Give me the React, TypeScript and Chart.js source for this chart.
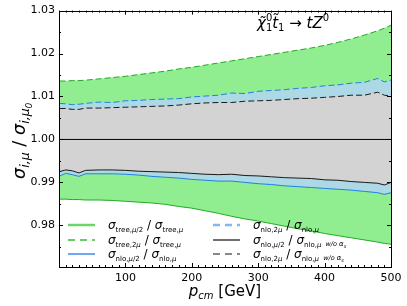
import React, { useEffect, useRef } from 'react';
import { Chart, registerables } from 'chart.js';

Chart.register(...registerables);

// ---- data ----
const pcm = [1, 10, 20, 30, 40, 60, 80, 100, 120, 140, 160, 180, 200, 220, 240, 260, 280, 300, 320, 340, 360, 380, 400, 420, 440, 460, 480, 490, 500];
const treeHalf = [0.9861, 0.9861, 0.9860, 0.9860, 0.9859, 0.9859, 0.9858, 0.9856, 0.9854, 0.9852, 0.9849, 0.9844, 0.9840, 0.9834, 0.9828, 0.9821, 0.9815, 0.9810, 0.9804, 0.9798, 0.9792, 0.9787, 0.9781, 0.9776, 0.9771, 0.9766, 0.9761, 0.9758, 0.9756];
const treeDouble = [1.0136, 1.0136, 1.0137, 1.0137, 1.0138, 1.0141, 1.0144, 1.0147, 1.0151, 1.0155, 1.0159, 1.0164, 1.0168, 1.0173, 1.0178, 1.0183, 1.0188, 1.0193, 1.0198, 1.0203, 1.0208, 1.0213, 1.0219, 1.0226, 1.0234, 1.0243, 1.0253, 1.0259, 1.0266];
const nloHalf = [0.9915, 0.9921, 0.9918, 0.9914, 0.9920, 0.9920, 0.9920, 0.9919, 0.9917, 0.9914, 0.9912, 0.9910, 0.9907, 0.9905, 0.9903, 0.9903, 0.9900, 0.9897, 0.9895, 0.9892, 0.9890, 0.9888, 0.9886, 0.9884, 0.9882, 0.9879, 0.9876, 0.9872, 0.9876];
const nloDouble = [1.0084, 1.0083, 1.0081, 1.0082, 1.0084, 1.0087, 1.0086, 1.0090, 1.0091, 1.0093, 1.0094, 1.0095, 1.0099, 1.0101, 1.0103, 1.0108, 1.0107, 1.0112, 1.0114, 1.0116, 1.0119, 1.0121, 1.0125, 1.0127, 1.0131, 1.0133, 1.0142, 1.0134, 1.0138];
const nloHalfNoAs = [0.9925, 0.9929, 0.9927, 0.9922, 0.9928, 0.9929, 0.9929, 0.9928, 0.9926, 0.9925, 0.9924, 0.9923, 0.9921, 0.9919, 0.9918, 0.9919, 0.9916, 0.9915, 0.9913, 0.9911, 0.9910, 0.9909, 0.9906, 0.9905, 0.9902, 0.9900, 0.9898, 0.9894, 0.9900];
const nloDoubleNoAs = [1.0072, 1.0072, 1.0070, 1.0070, 1.0073, 1.0073, 1.0074, 1.0075, 1.0076, 1.0077, 1.0078, 1.0080, 1.0083, 1.0085, 1.0086, 1.0086, 1.0089, 1.0090, 1.0091, 1.0093, 1.0095, 1.0096, 1.0098, 1.0100, 1.0103, 1.0103, 1.0110, 1.0103, 1.0101];
const refX = [0, 500];
const refY = [1.0, 1.0];

const xMin = 0;
const xMax = 500;
const yMin = 0.9703;
const yMax = 1.03;
const xMajorStep = 100;
const xMinorStep = 10;
const yMajorStep = 0.01;
const yMinorStep = 0.005;

const FONT = '"DejaVu Sans"';

type Seg = { t: string; size: number; italic?: boolean; dy?: number; stack?: boolean };

function segFont(s: Seg) {
  return `${s.italic ? 'italic ' : ''}${s.size}px ${FONT}`;
}

function measureRich(ctx: CanvasRenderingContext2D, segs: Seg[]) {
  let w = 0;
  let prevW = 0;
  for (const s of segs) {
    ctx.font = segFont(s);
    const m = ctx.measureText(s.t).width;
    if (s.stack) {
      if (m > prevW) { w += m - prevW; prevW = m; }
    } else {
      w += m;
      prevW = m;
    }
  }
  return w;
}

function drawRich(ctx: CanvasRenderingContext2D, x: number, y: number, segs: Seg[]) {
  let cx = x;
  let lastX = x;
  let prevW = 0;
  ctx.textBaseline = 'alphabetic';
  ctx.textAlign = 'left';
  for (const s of segs) {
    ctx.font = segFont(s);
    const m = ctx.measureText(s.t).width;
    if (s.stack) {
      ctx.fillText(s.t, lastX, y + (s.dy || 0));
      if (m > prevW) { cx = lastX + m; prevW = m; }
    } else {
      ctx.fillText(s.t, cx, y + (s.dy || 0));
      lastX = cx;
      cx += m;
      prevW = m;
    }
  }
  return cx - x;
}

const SIG = 12;
const SUB = 7;
function sigmaRatio(kind: string, scale: string, noAs: boolean): Seg[] {
  const segs: Seg[] = [
    { t: 'σ', size: SIG, italic: true },
    { t: kind + ',', size: SUB, dy: 3 },
  ];
  if (scale === 'half') {
    segs.push({ t: 'μ', size: SUB, italic: true, dy: 3 }, { t: '/2', size: SUB, dy: 3 });
  } else {
    segs.push({ t: '2', size: SUB, dy: 3 }, { t: 'μ', size: SUB, italic: true, dy: 3 });
  }
  segs.push(
    { t: ' / ', size: SIG },
    { t: 'σ', size: SIG, italic: true },
    { t: kind + ',', size: SUB, dy: 3 },
    { t: 'μ', size: SUB, italic: true, dy: 3 },
  );
  if (noAs) {
    segs.push(
      { t: '  w/o ', size: 6.5, italic: true, dy: 2 },
      { t: 'α', size: 7, italic: true, dy: 2 },
      { t: 's', size: 5, italic: true, dy: 4 },
    );
  }
  return segs;
}

const legendItems = [
  { col: 0, row: 0, color: '#6ad66a', width: 2.5, dash: [] as number[], segs: sigmaRatio('tree', 'half', false) },
  { col: 0, row: 1, color: '#3cb83c', width: 1.5, dash: [7, 5], segs: sigmaRatio('tree', 'double', false) },
  { col: 0, row: 2, color: '#3a8ee8', width: 1.5, dash: [] as number[], segs: sigmaRatio('nlo', 'half', false) },
  { col: 1, row: 0, color: '#80b8f0', width: 2.5, dash: [7, 5], segs: sigmaRatio('nlo', 'double', false) },
  { col: 1, row: 1, color: '#111111', width: 1.2, dash: [] as number[], segs: sigmaRatio('nlo', 'half', true) },
  { col: 1, row: 2, color: '#111111', width: 1.2, dash: [7, 5], segs: sigmaRatio('nlo', 'double', true) },
];

const decorPlugin = {
  id: 'decor',
  afterDraw(chart: any) {
    const ctx: CanvasRenderingContext2D = chart.ctx;
    const { left, right, top, bottom } = chart.chartArea;
    const xs = chart.scales.x;
    const ys = chart.scales.y;
    ctx.save();
    // inward ticks on all four sides
    ctx.strokeStyle = '#000';
    ctx.lineWidth = 1;
    ctx.beginPath();
    for (let v = xMin; v <= xMax + 1e-9; v += xMinorStep) {
      const major = Math.abs(v / xMajorStep - Math.round(v / xMajorStep)) < 1e-6;
      const len = major ? 4 : 2;
      const px = Math.round(xs.getPixelForValue(v)) + 0.5;
      ctx.moveTo(px, bottom);
      ctx.lineTo(px, bottom - len);
      ctx.moveTo(px, top);
      ctx.lineTo(px, top + len);
    }
    for (let k = 0; k <= 20; k++) {
      const v = 0.97 + k * yMinorStep;
      if (v < yMin - 1e-9 || v > yMax + 1e-9) continue;
      const major = k % 2 === 0;
      const len = major ? 4 : 2;
      const py = Math.round(ys.getPixelForValue(v)) + 0.5;
      ctx.moveTo(left, py);
      ctx.lineTo(left + len, py);
      ctx.moveTo(right, py);
      ctx.lineTo(right - len, py);
    }
    ctx.stroke();
    // frame
    ctx.strokeStyle = '#000';
    ctx.lineWidth = 1;
    ctx.strokeRect(Math.round(left) + 0.5, Math.round(top) + 0.5, Math.round(right - left), Math.round(bottom - top));

    ctx.fillStyle = '#000';
    // legend
    const colLineX = [68, 213];
    const colTextX = [108, 253];
    const rowY = [225, 240, 254];
    for (const it of legendItems) {
      const y = rowY[it.row];
      ctx.strokeStyle = it.color;
      ctx.lineWidth = it.width;
      ctx.setLineDash(it.dash);
      ctx.beginPath();
      ctx.moveTo(colLineX[it.col], y);
      ctx.lineTo(colLineX[it.col] + 27, y);
      ctx.stroke();
      ctx.setLineDash([]);
      ctx.fillStyle = '#000';
      drawRich(ctx, colTextX[it.col], y + 3.5, it.segs);
    }

    // process annotation
    const title: Seg[] = [
      { t: 'χ\u0303', size: 15, italic: true },
      { t: '0', size: 10, dy: -7 },
      { t: '1', size: 10, dy: 3, stack: true },
      { t: 't\u0303', size: 15, italic: true },
      { t: '1', size: 10, dy: 3 },
      { t: ' → ', size: 15 },
      { t: 'tZ', size: 15, italic: true },
      { t: '0', size: 10, dy: -7 },
    ];
    drawRich(ctx, 257, 28, title);

    // x-axis label
    const xl: Seg[] = [
      { t: 'p', size: 15, italic: true },
      { t: 'cm', size: 10, italic: true, dy: 3 },
      { t: ' [GeV]', size: 15 },
    ];
    const xw = measureRich(ctx, xl);
    drawRich(ctx, (left + right) / 2 - xw / 2, 296, xl);

    // y-axis label
    const yl: Seg[] = [
      { t: 'σ', size: 17.5, italic: true },
      { t: 'i,', size: 12.5, italic: true, dy: 4 },
      { t: 'μ', size: 12.5, italic: true, dy: 4 },
      { t: ' / ', size: 18 },
      { t: 'σ', size: 17.5, italic: true },
      { t: 'i,', size: 12.5, italic: true, dy: 4 },
      { t: 'μ', size: 12.5, italic: true, dy: 4 },
      { t: '0', size: 9, italic: true, dy: 7 },
    ];
    const yw = measureRich(ctx, yl);
    ctx.translate(25, (top + bottom) / 2 + 2);
    ctx.rotate(-Math.PI / 2);
    drawRich(ctx, -yw / 2, 0, yl);
    ctx.restore();
  },
};

export default function App() {
  const canvasRef = useRef<HTMLCanvasElement | null>(null);

  useEffect(() => {
    const canvas = canvasRef.current;
    if (!canvas) return;
    Chart.defaults.font.family = FONT;
    const pts = (ys: number[]) => pcm.map((x, i) => ({ x, y: ys[i] }));
    const base = { pointRadius: 0, tension: 0, borderWidth: 1 };
    const chart = new Chart(canvas, {
      type: 'line',
      data: {
        datasets: [
          { ...base, label: 'ref', data: refX.map((x, i) => ({ x, y: refY[i] })), borderColor: '#000000', fill: false },
          { ...base, label: 'nloHalfNoAs', data: pts(nloHalfNoAs), borderColor: '#1a1a1a', fill: '+1', backgroundColor: '#d3d3d3' },
          { ...base, label: 'nloDoubleNoAs', data: pts(nloDoubleNoAs), borderColor: '#1a1a1a', borderDash: [6, 3], fill: false },
          { ...base, label: 'nloHalf', data: pts(nloHalf), borderColor: '#2080e0', fill: '+1', backgroundColor: '#add8e6' },
          { ...base, label: 'nloDouble', data: pts(nloDouble), borderColor: '#2080e0', borderDash: [6, 3], fill: false },
          { ...base, label: 'treeHalf', data: pts(treeHalf), borderColor: '#22aa22', fill: '+1', backgroundColor: '#90ee90' },
          { ...base, label: 'treeDouble', data: pts(treeDouble), borderColor: '#22aa22', borderDash: [6, 3], fill: false },
        ],
      },
      options: {
        responsive: false,
        animation: false,
        devicePixelRatio: 1,
        layout: { padding: { top: 10, right: 16, left: 0, bottom: 0 } },
        plugins: {
          legend: { display: false },
          tooltip: { enabled: false },
          filler: { drawTime: 'beforeDatasetsDraw' },
        } as any,
        scales: {
          x: {
            type: 'linear',
            min: xMin,
            max: xMax,
            grid: { display: false, drawTicks: false },
            border: { display: false },
            ticks: {
              stepSize: xMajorStep,
              maxRotation: 0,
              color: '#000',
              padding: 5,
              font: { size: 11, family: FONT },
              callback: (v: any) => (Number(v) === 0 ? '' : String(v)),
            },
            afterFit: (s: any) => { s.height = 39; },
          },
          y: {
            type: 'linear',
            min: yMin,
            max: yMax,
            grid: { display: false, drawTicks: false },
            border: { display: false },
            ticks: {
              stepSize: yMajorStep,
              includeBounds: false,
              color: '#000',
              padding: 4,
              font: { size: 11, family: FONT },
              callback: (v: any) => Number(v).toFixed(2),
            },
            afterFit: (s: any) => { s.width = 59; },
          },
        },
      } as any,
      plugins: [decorPlugin],
    });
    return () => chart.destroy();
  }, []);

  return (
    <div style={{ position: 'absolute', left: 0, top: 0, width: 407, height: 306, background: '#fff' }}>
      <canvas ref={canvasRef} width={407} height={306} style={{ width: 407, height: 306, display: 'block' }} />
    </div>
  );
}
